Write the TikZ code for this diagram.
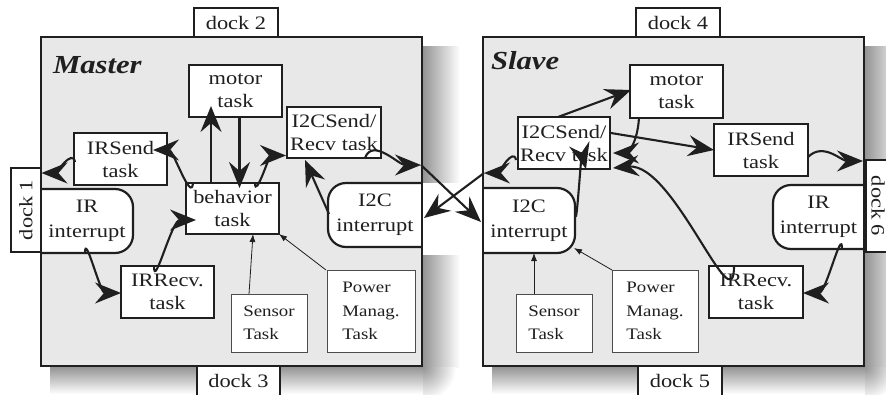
\documentclass[tikz,border=0pt]{standalone}
\usepackage{fontspec}
\setmainfont{Liberation Serif}[FakeStretch=1.18]
\usetikzlibrary{arrows.meta,calc}
\definecolor{panel}{gray}{0.91}
\definecolor{ink}{gray}{0.12}
\definecolor{shadowgray}{gray}{0.58}
\tikzset{
  headbig/.tip={Stealth[length=26pt,width=21pt,inset=9pt]},
  headsmall/.tip={Latex[length=8pt,width=6pt]}
}
\begin{document}
\begin{tikzpicture}[x=1pt,y=-1pt,
  every node/.style={text=ink, inner sep=0pt, outer sep=0pt},
  panelbox/.style={fill=panel, draw=none},
  panelline/.style={draw=ink, line width=2.6pt},
  taskbox/.style={draw=ink, line width=2.2pt, fill=white, align=center,
    font=\fontsize{19}{23}\selectfont},
  dockbox/.style={draw=ink, line width=2pt, fill=white,
    font=\fontsize{19}{23}\selectfont},
  intshape/.style={draw=ink, line width=2.2pt, fill=white, rounded corners=18pt},
  inttext/.style={align=center, font=\fontsize{19}{25}\selectfont},
  infobox/.style={draw=black!70, line width=1pt, fill=white, align=left,
    font=\fontsize{16}{23.5}\selectfont},
  titletext/.style={font=\fontsize{26}{30}\selectfont\bfseries\itshape},
  flow/.style={draw=ink, line width=2.1pt, arrows={-headbig}},
  feed/.style={draw=ink, line width=0.8pt, arrows={-headsmall}}
]
\useasboundingbox (0,0) rectangle (886,394);
\fill[white] (0,0) rectangle (886,394);

% soft drop shadows to the right of and below each panel
\foreach \px in {0,442} {
  \shade[left color=shadowgray, right color=white] (423+\px,46) rectangle (460+\px,367);
  \shade[top color=shadowgray, bottom color=white] (50+\px,367) rectangle (423+\px,394);
  \begin{scope}
    \clip (423+\px,367) rectangle (460+\px,394);
    \shade[inner color=shadowgray, outer color=white] (423+\px,367) circle (33);
  \end{scope}
}

% the two robot panels
\node[panelbox, minimum width=381pt, minimum height=329pt] (mbox) at (231.5,201.5) {};
\node[panelbox, minimum width=381pt, minimum height=329pt] (sbox) at (673.5,201.5) {};

% link strip between the two I2C ports
\fill[white] (423.2,183) rectangle (481.8,255);

% interrupt outlines (rounded on the inner side only)
\draw[intshape] (41,189) -- (133,189) -- (133,253) -- (41,253);
\draw[intshape] (422,183) -- (328,183) -- (328,247) -- (422,247);
\draw[intshape] (483,188) -- (575,188) -- (575,253) -- (483,253);
\draw[intshape] (864,185) -- (773,185) -- (773,249) -- (864,249);

% panel borders
\draw[panelline] (mbox.north west) rectangle (mbox.south east);
\draw[panelline] (sbox.north west) rectangle (sbox.south east);

% docks
\node[dockbox, minimum width=84pt, minimum height=29pt] (dock2) at (236,22.5) {dock 2};
\node[dockbox, minimum width=83pt, minimum height=30pt] (dock3) at (238.5,381) {dock 3};
\node[dockbox, minimum width=84pt, minimum height=29pt] (dock4) at (678,22.5) {dock 4};
\node[dockbox, minimum width=84pt, minimum height=30pt] (dock5) at (680,381) {dock 5};
\node[dockbox, rotate=90, minimum width=84pt, minimum height=30pt] (dock1) at (26,210) {dock 1};
\node[dockbox, rotate=-90, minimum width=92pt, minimum height=24pt] (dock6) at (878,206) {dock 6};

% titles
\node[titletext, anchor=base west] (mtitle) at (53,73) {Master};
\node[titletext, anchor=base west] (stitle) at (491,69) {Slave};

% master tasks
\node[taskbox, minimum width=93pt, minimum height=52pt] (mmotor) at (235.5,91) {motor\\task};
\node[taskbox, minimum width=94pt, minimum height=51pt] (mi2cs) at (334,132.5) {I2CSend/\\Recv task};
\node[taskbox, minimum width=93pt, minimum height=52pt] (mirs) at (120.5,159) {IRSend\\task};
\node[taskbox, minimum width=93pt, minimum height=51pt] (mbeh) at (232.5,208.5) {behavior\\task};
\node[taskbox, minimum width=93pt, minimum height=52pt] (mirr) at (167.5,292) {IRRecv.\\task};
\node[inttext, minimum width=92pt, minimum height=64pt] (mirint) at (87,221) {IR\\interrupt};
\node[inttext, minimum width=94pt, minimum height=64pt] (mi2cint) at (375,215) {I2C\\interrupt};
\node[infobox, minimum width=76pt, minimum height=58pt] (msens) at (269,323) {Sensor\\Task};
\node[infobox, minimum width=88pt, minimum height=82pt] (mpow) at (371,311) {Power\\Manag.\\Task};

% slave tasks
\node[taskbox, minimum width=93pt, minimum height=53pt] (smotor) at (676.5,91.5) {motor\\task};
\node[taskbox, minimum width=92pt, minimum height=52pt] (si2cs) at (564,143) {I2CSend/\\Recv task};
\node[taskbox, minimum width=94pt, minimum height=52pt] (sirs) at (761,150) {IRSend\\task};
\node[taskbox, minimum width=94pt, minimum height=52pt] (sirr) at (756,292) {IRRecv.\\task};
\node[inttext, minimum width=92pt, minimum height=65pt] (si2cint) at (529,220.5) {I2C\\interrupt};
\node[inttext, minimum width=91pt, minimum height=64pt] (sirint) at (818.5,217) {IR\\interrupt};
\node[infobox, minimum width=76pt, minimum height=58pt] (ssens) at (554,323) {Sensor\\Task};
\node[infobox, minimum width=86pt, minimum height=82pt] (spow) at (655,311) {Power\\Manag.\\Task};

% I2C ports on the panel edges
\coordinate (mport) at ($(mbox.east)+(-1,-36.5)$);
\coordinate (sport) at ($(sbox.west)+(1,-28.5)$);

% master connectors
\draw[flow] ($(mbeh.north)+(-39.5,0)$) to[out=-95,in=0] ($(mirs.east)+(-14,-9)$);
\draw[flow] ($(mbeh.north)+(-21.5,0)$) -- ($(mmotor.south)+(-24.5,-11)$);
\draw[flow] ($(mmotor.south)+(4,0)$) -- ($(mbeh.north)+(7,5)$);
\draw[flow] ($(mbeh.north)+(22.5,0)$) to[out=-90,in=180] ($(mi2cs.west)+(-1,23)$);
\draw[flow] ($(mi2cs.south east)+(-16,0)$) to[out=70,in=180] (mport);
\draw[flow] ($(mi2cint.west)+(1,-1)$) -- ($(mi2cs.south)+(-29,2)$);
\draw[flow] ($(mirint.south)+(-2,0)$) to[out=90,in=180] ($(mirr.west)+(0,1)$);
\draw[flow] ($(mirr.north)+(-13.5,0)$) to[out=-90,in=180] ($(mbeh.west)+(10,11.5)$);
\draw[flow] ($(mirs.west)+(1,3)$) to[out=100,in=0] ($(mbox.west)+(0.5,-28.5)$);
\draw[feed] ($(msens.north)+(-20,0)$) -- ($(mbeh.south)+(20.5,0)$);
\draw[feed] ($(mpow.north west)+(-1,0)$) -- (mbeh.south east);

% crossing I2C link
\draw[flow] (mport) -- ($(si2cint.west)+(-2,1.5)$);
\draw[flow] (sport) -- ($(mi2cint.east)+(2,3)$);

% slave connectors
\draw[flow] ($(si2cs.north)+(-6,0)$) -- ($(smotor.west)+(1,-1.5)$);
\draw[flow] ($(smotor.south)+(-37.5,0)$) .. controls +(-2,30) and +(12,0) .. ($(si2cs.east)+(3,10)$);
\draw[flow] ($(sirr.north)+(-22,0)$) to[out=-90,in=5] ($(si2cs.south east)+(3,-1)$);
\draw[flow] ($(si2cs.east)+(1,-10)$) -- (sirs.west);
\draw[flow] ($(sirs.east)+(0,7)$) to[out=45,in=180] ($(sbox.east)+(-1,-40.5)$);
\draw[flow] ($(si2cs.south west)+(-2,-9)$) to[out=100,in=0] (sport);
\draw[flow] ($(si2cint.east)+(1,-8)$) to[out=-90,in=105] ($(si2cs.south east)+(-24,0)$);
\draw[flow] ($(sirint.south)+(23.5,0)$) to[out=90,in=0] ($(sirr.east)+(0,1)$);
\draw[feed] ($(ssens.north)+(-20,0)$) -- ($(si2cint.south)+(5,0)$);
\draw[feed] (spow.north west) -- ($(si2cint.south east)+(-1,-5)$);
\end{tikzpicture}
\end{document}
